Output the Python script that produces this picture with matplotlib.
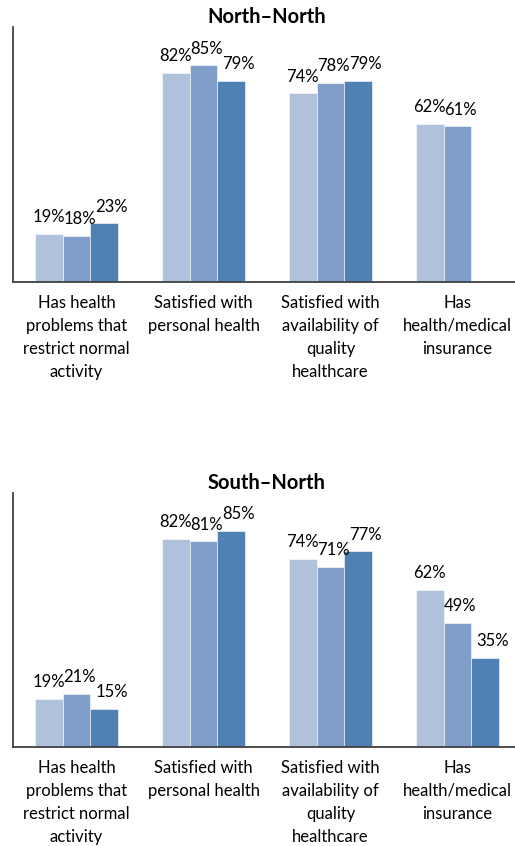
import numpy as np
import matplotlib
matplotlib.use("Agg")
import matplotlib.pyplot as plt

plt.rcParams['font.family'] = ['Lato', 'DejaVu Sans']

categories = [
    "Has health\nproblems that\nrestrict normal\nactivity",
    "Satisfied with\npersonal health",
    "Satisfied with\navailability of\nquality\nhealthcare",
    "Has\nhealth/medical\ninsurance",
]

# three series per panel (missing value -> None)
north_a = [19, 82, 74, 62]
north_b = [18, 85, 78, 61]
north_c = [23, 79, 79, None]

south_a = [19, 82, 74, 62]
south_b = [21, 81, 71, 49]
south_c = [15, 85, 77, 35]

colors = ["#B0C1DC", "#7F9FC8", "#4F81B5"]
label_shift = [0, 3, 7]   # px, Excel nudges labels a bit to the right


def draw_panel(ax, title, series):
    x = np.arange(len(categories))
    w = 0.22
    for s, vals in enumerate(series):
        for i, v in enumerate(vals):
            if v is None:
                continue
            xpos = x[i] + (s - 1) * w
            ax.bar(xpos, v, width=w, color=colors[s], edgecolor="white", linewidth=0.4)
            ax.annotate(f"{v}%", (xpos, v), textcoords="offset points",
                        xytext=(label_shift[s] * 0.72, 12), ha="center", va="center",
                        fontsize=12, color="#000000")
    ax.set_xlim(-0.5, len(categories) - 0.5)
    ax.set_ylim(0, 100)
    ax.set_xticks(x)
    ax.set_xticklabels(categories, fontsize=12, linespacing=1.55)
    ax.tick_params(axis="x", length=0, pad=9)
    ax.set_yticks([])
    for side in ["top", "right"]:
        ax.spines[side].set_visible(False)
    for side in ["left", "bottom"]:
        ax.spines[side].set_color("#404040")
        ax.spines[side].set_linewidth(1.3)
    ax.set_title(title, fontsize=14.5, fontweight="bold", pad=2)


fig = plt.figure(figsize=(5.15, 8.46), dpi=100)
ax1 = fig.add_axes([13 / 515, 1 - 282 / 846, 508 / 515, 255 / 846])
ax2 = fig.add_axes([13 / 515, 1 - 747 / 846, 508 / 515, 254 / 846])

draw_panel(ax1, "North\u2013North", [north_a, north_b, north_c])
draw_panel(ax2, "South\u2013North", [south_a, south_b, south_c])

fig.savefig("out.png", dpi=100)
